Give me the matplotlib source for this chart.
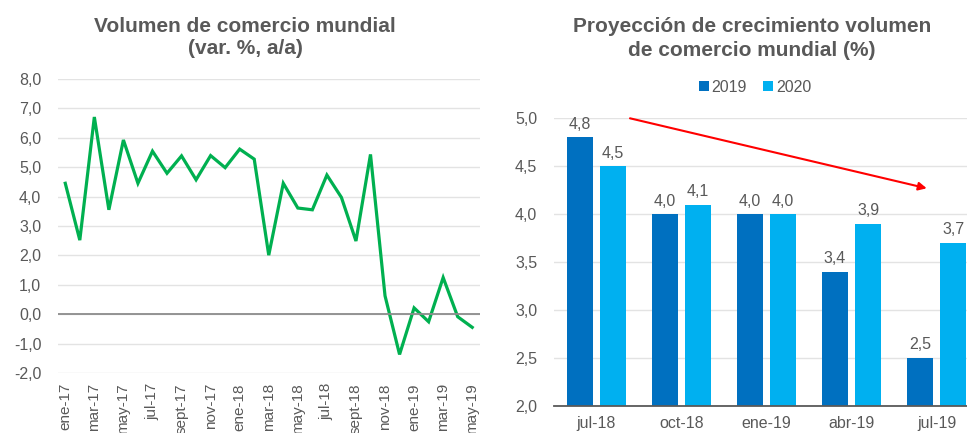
import matplotlib
matplotlib.use("Agg")
import matplotlib.pyplot as plt
import numpy as np

plt.rcParams['font.family'] = ['Liberation Sans', 'DejaVu Sans']

GRAY_TXT = "#595959"

# ---- left chart: monthly world trade volume (var. %, a/a) ----
months = ["ene-17", "feb-17", "mar-17", "abr-17", "may-17", "jun-17", "jul-17", "ago-17",
          "sept-17", "oct-17", "nov-17", "dic-17", "ene-18", "feb-18", "mar-18", "abr-18",
          "may-18", "jun-18", "jul-18", "ago-18", "sept-18", "oct-18", "nov-18", "dic-18",
          "ene-19", "feb-19", "mar-19", "abr-19", "may-19"]
trade_vol = [4.45, 2.52, 6.70, 3.55, 5.92, 4.45, 5.54, 4.79, 5.38, 4.57, 5.39, 4.98,
             5.61, 5.27, 2.01, 4.45, 3.61, 3.55, 4.73, 3.97, 2.49, 5.43, 0.63, -1.36,
             0.22, -0.25, 1.25, -0.08, -0.44]
left_yticks = [-2, -1, 0, 1, 2, 3, 4, 5, 6, 7, 8]

# ---- right chart: projections ----
proj_dates = ["jul-18", "oct-18", "ene-19", "abr-19", "jul-19"]
proj_2019 = [4.8, 4.0, 4.0, 3.4, 2.5]
proj_2020 = [4.5, 4.1, 4.0, 3.9, 3.7]
right_yticks = [2.0, 2.5, 3.0, 3.5, 4.0, 4.5, 5.0]


def coma(v):
    return f"{v:.1f}".replace(".", ",")


fig = plt.figure(figsize=(9.67, 4.33), dpi=100)

# ---- left ----
ax1 = fig.add_axes([58 / 967, 1 - 373.3 / 433, 421.5 / 967, (373.3 - 78.7) / 433])
x = np.arange(len(months))
ax1.plot(x, trade_vol, color="#00B050", lw=2.3, solid_joinstyle="miter")
ax1.set_xlim(-0.5, len(months) - 0.5)
ax1.set_ylim(-2, 8)
ax1.set_yticks(left_yticks)
ax1.set_yticklabels([coma(v) for v in left_yticks])
ax1.yaxis.grid(True, color="#e3e3e3", lw=1)
ax1.axhline(0, color="#8c8c8c", lw=1.3)
ax1.set_axisbelow(True)
ax1.set_xticks(x[::2])
ax1.set_xticklabels(months[::2], rotation=90, va="top")
for s in ax1.spines.values():
    s.set_visible(False)
ax1.tick_params(axis="both", length=0, colors=GRAY_TXT, labelsize=11)
ax1.tick_params(axis="y", pad=12, labelsize=11.5)
ax1.tick_params(axis="x", pad=7)

fig.text(245 / 967, 1 - 27 / 433, "Volumen de comercio mundial", ha="center", va="center",
         fontsize=15, fontweight="bold", color=GRAY_TXT)
fig.text(245 / 967, 1 - 48 / 433, "(var. %, a/a)", ha="center", va="center",
         fontsize=15, fontweight="bold", color=GRAY_TXT)

# ---- right ----
ax2 = fig.add_axes([554 / 967, 1 - 406 / 433, 425 / 967, (406 - 118.3) / 433])
xr = np.arange(len(proj_dates))
w = 0.3
off = 0.197
b1 = ax2.bar(xr - off, proj_2019, w, color="#0070C0", label="2019")
b2 = ax2.bar(xr + off, proj_2020, w, color="#00B0F0", label="2020")
ax2.bar_label(b1, labels=[coma(v) for v in proj_2019], padding=4, fontsize=11.5, color=GRAY_TXT)
ax2.bar_label(b2, labels=[coma(v) for v in proj_2020], padding=4, fontsize=11.5, color=GRAY_TXT)
ax2.set_xlim(-0.5, len(proj_dates) - 0.5)
ax2.set_ylim(2.0, 5.0)
ax2.set_yticks(right_yticks)
ax2.set_yticklabels([coma(v) for v in right_yticks])
ax2.yaxis.grid(True, color="#e3e3e3", lw=1)
ax2.set_axisbelow(True)
ax2.set_xticks(xr)
ax2.set_xticklabels(proj_dates)
for k, s in ax2.spines.items():
    s.set_visible(k == "bottom")
ax2.spines["bottom"].set_color("#595959")
ax2.spines["bottom"].set_linewidth(1.3)
ax2.tick_params(axis="both", length=0, colors=GRAY_TXT, labelsize=11.5)
ax2.tick_params(axis="y", pad=12)
ax2.tick_params(axis="x", pad=7)

# downward trend arrow
ax2.annotate("", xy=(3.885, 4.27), xytext=(0.394, 5.0),
             arrowprops=dict(arrowstyle="-|>", color="#FF0000", lw=1.5,
                             mutation_scale=12, shrinkA=0, shrinkB=0),
             annotation_clip=False)

fig.text(752 / 967, 1 - 27 / 433, "Proyección de crecimiento volumen", ha="center", va="center",
         fontsize=15, fontweight="bold", color=GRAY_TXT)
fig.text(752 / 967, 1 - 50 / 433, "de comercio mundial (%)", ha="center", va="center",
         fontsize=15, fontweight="bold", color=GRAY_TXT)

fig.legend(handles=[b1, b2], loc="center", bbox_to_anchor=(755 / 967, 1 - 87 / 433), ncol=2,
           frameon=False, fontsize=11.5, handlelength=0.6, handleheight=0.6,
           handletextpad=0.2, columnspacing=1.0, labelcolor=GRAY_TXT)

fig.savefig("out.png", dpi=100)
